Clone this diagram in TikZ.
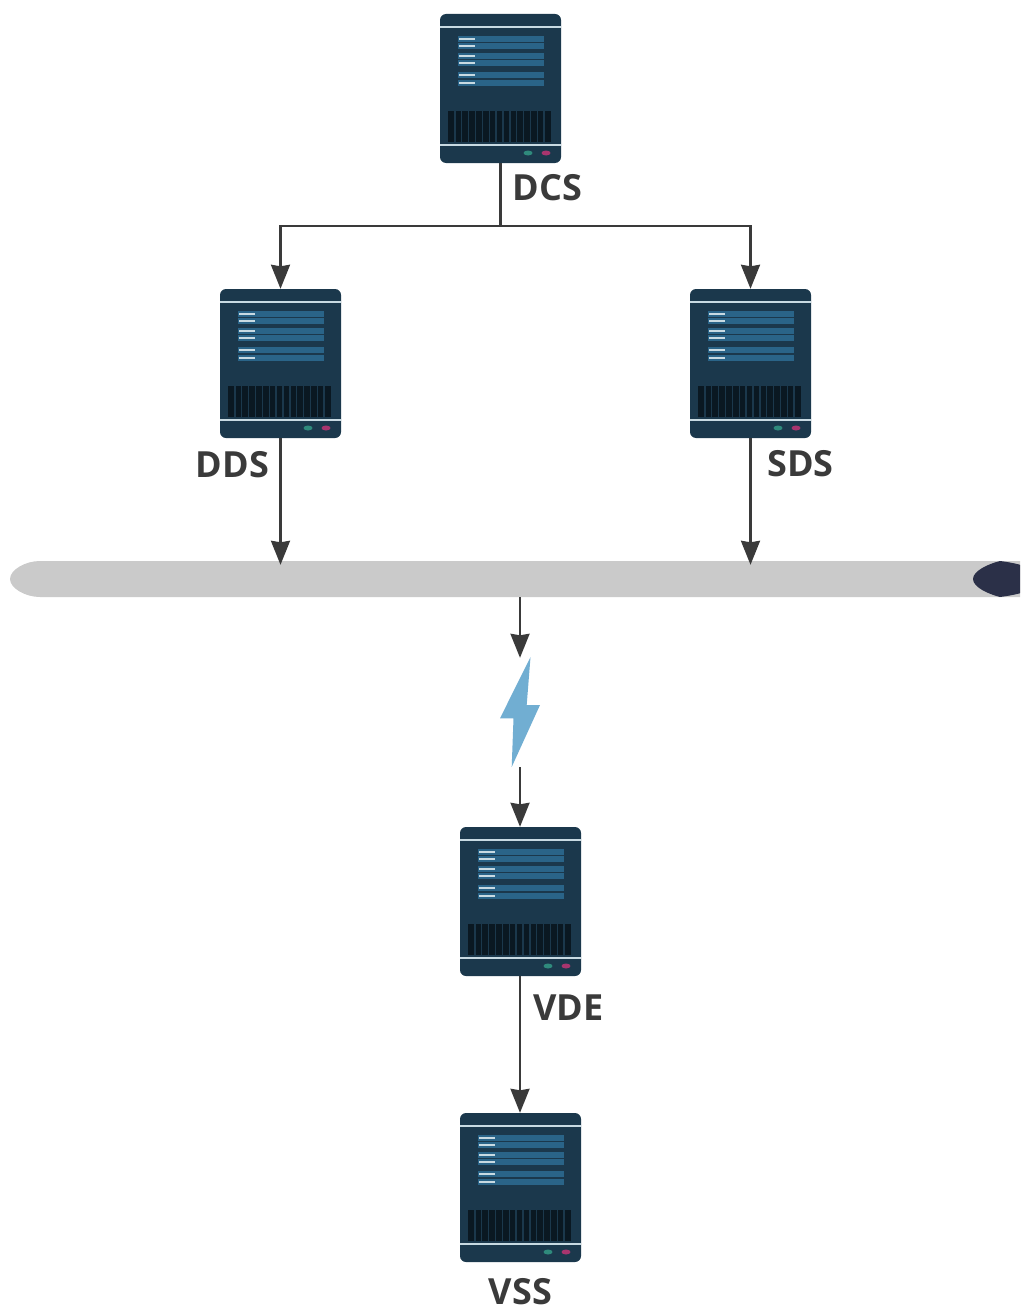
\documentclass[tikz,border=0pt]{standalone}
\usepackage{fontspec}
\setmainfont{Open Sans}
\usetikzlibrary{arrows.meta}
\definecolor{serverbody}{HTML}{1B384C}
\definecolor{serverpanel}{HTML}{2A6488}
\definecolor{servergrill}{HTML}{0A1822}
\definecolor{serverline}{HTML}{C8DAE2}
\definecolor{ledgreen}{HTML}{2F8A7C}
\definecolor{ledpink}{HTML}{A8356E}
\definecolor{busgray}{HTML}{CACACA}
\definecolor{buscap}{HTML}{2B3048}
\definecolor{boltblue}{HTML}{71AED2}
\definecolor{inkgray}{HTML}{3A3A3A}
\tikzset{
  serverbox/.style={fill=serverbody,rounded corners=6pt,minimum width=121pt,minimum height=149pt,inner sep=0pt},
  flow/.style={draw=inkgray,line width=2.3pt,-{Stealth[length=24pt,width=19pt,inset=1.5pt]}},
  wire/.style={draw=inkgray,line width=2.3pt},
  tag/.style={text=inkgray,font=\fontsize{36}{36}\selectfont\bfseries,inner sep=0pt},
  server/.pic={
    \node[serverbox] (box) at (0,0) {};
    \draw[serverline,line width=1.6pt] (-60.5,-61.5) -- (60.5,-61.5);
    \draw[serverline,line width=1.6pt] (-60.5,56.5) -- (60.5,56.5);
    \foreach \y in {-52.5,-45.5,-35.5,-28.5,-16.5,-8.5} {
      \fill[serverpanel] (-42.5,\y) rectangle (43.5,\y+6);
      \fill[serverline] (-41.5,\y+2.2) rectangle (-25.5,\y+3.8);
    }
    \fill[servergrill] (-52.5,22.5) rectangle (50.5,53.5);
    \foreach \i in {1,...,14}
      \fill[serverbody] (-52.5+\i*6.87-0.7,22.5) rectangle (-52.5+\i*6.87+0.7,53.5);
    \fill[ledgreen] (27.5,64.5) ellipse (4.5 and 2.5);
    \fill[ledpink] (45.5,64.5) ellipse (4.5 and 2.5);
  }
}
\begin{document}
\begin{tikzpicture}[x=1pt,y=-1pt]
    \useasboundingbox (0,0) rectangle (1020,1311);

    \pic (dcs) at (500.5,88.5) {server};
    \pic (dds) at (280.5,363.5) {server};
    \pic (sds) at (750.5,363.5) {server};
    \pic (vde) at (520.5,901.5) {server};
    \pic (vss) at (520.5,1187.5) {server};

    \node[tag] (dcslabel) at (547.5,188) {DCS};
    \node[tag] (ddslabel) at (232.5,465) {DDS};
    \node[tag] (sdslabel) at (800.5,464) {SDS};
    \node[tag] (vdelabel) at (568.5,1008) {VDE};
    \node[tag] (vsslabel) at (520.5,1292) {VSS};

    % bus
    \begin{scope}
        \clip (0,550) rectangle (1020,610);
        \fill[busgray] (1020,561) -- (40,561) .. controls (25,561) and (10,570) .. (10,579)
            .. controls (10,588) and (25,597) .. (40,597) -- (1020,597) -- cycle;
        \fill[buscap] (973,579) .. controls (973,571) and (988,564) .. (1000,561)
            .. controls (1008,562) and (1020,564) .. (1030,568) -- (1030,590)
            .. controls (1020,594) and (1008,596) .. (1000,597)
            .. controls (988,594) and (973,587) .. (973,579) -- cycle;
    \end{scope}
    \node[minimum width=1010pt,minimum height=36pt,inner sep=0pt] (bus) at (515,579) {};

    % bolt
    \fill[boltblue] (530.5,657) -- (500,718.3) -- (513.5,718.3) -- (511.7,767)
        -- (540,705) -- (526.7,705) -- cycle;
    \node[minimum width=40pt,minimum height=109pt,inner sep=0pt] (bolt) at (520,712.5) {};

    \coordinate (split) at (500.5,226);
    \draw[wire] (dcsbox.south) -- (split);
    \draw[flow] (split) -| (ddsbox.north);
    \draw[flow] (split) -| (sdsbox.north);

    \draw[flow,shorten >=-4pt] (ddsbox.south) -- (ddsbox.south |- bus.north);
    \draw[flow,shorten >=-4pt] (sdsbox.south) -- (sdsbox.south |- bus.north);

    \draw[flow] (bolt.north |- bus.south) -- (bolt.north);
    \draw[flow] (bolt.south) -- (bolt.south |- vdebox.north);
    \draw[flow] (bolt.south |- vdebox.south) -- (bolt.south |- vssbox.north);
\end{tikzpicture}
\end{document}
